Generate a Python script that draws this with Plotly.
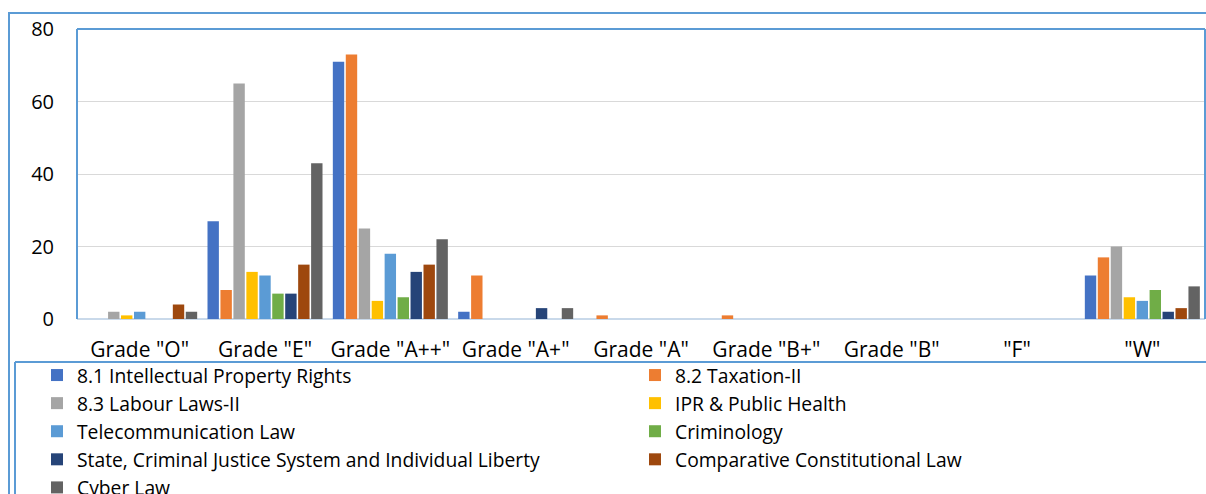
import plotly.graph_objects as go

categories = ['Grade "O"', 'Grade "E"', 'Grade "A++"', 'Grade "A+"', 'Grade "A"',
              'Grade "B+"', 'Grade "B"', '"F"', '"W"']

series_names = [
    "8.1 Intellectual Property Rights",
    "8.2 Taxation-II",
    "8.3 Labour Laws-II",
    "IPR & Public Health",
    "Telecommunication Law",
    "Criminology",
    "State, Criminal Justice System and Individual Liberty",
    "Comparative Constitutional Law",
    "Cyber Law",
]

ipr = [0, 27, 71, 2, 0, 0, 0, 0, 12]
taxation = [0, 8, 73, 12, 1, 1, 0, 0, 17]
labour = [2, 65, 25, 0, 0, 0, 0, 0, 20]
ipr_health = [1, 13, 5, 0, 0, 0, 0, 0, 6]
telecom = [2, 12, 18, 0, 0, 0, 0, 0, 5]
criminology = [0, 7, 6, 0, 0, 0, 0, 0, 8]
state_cjs = [0, 7, 13, 3, 0, 0, 0, 0, 2]
comparative = [4, 15, 15, 0, 0, 0, 0, 0, 3]
cyber = [2, 43, 22, 3, 0, 0, 0, 0, 9]

all_values = [ipr, taxation, labour, ipr_health, telecom, criminology, state_cjs, comparative, cyber]
colors = ["#4472C4", "#ED7D31", "#A5A5A5", "#FFC000", "#5B9BD5",
          "#70AD47", "#264478", "#9E480E", "#636363"]

FONT = "Open Sans"
W, H = 1206, 494
L, R, T, B = 77, 1, 29, 175
pw, ph = W - L - R, H - T - B

def px(x):
    return (x - L) / pw

def py(y):
    return (H - B - y) / ph

fig = go.Figure()
for i, (name, vals, col) in enumerate(zip(series_names, all_values, colors)):
    fig.add_trace(go.Bar(x=categories, y=vals, name=name, marker_color=col,
                         marker_line_width=0,
                         legend="legend" if i % 2 == 0 else "legend2"))

frame = "#5B9BD5"
shapes = [
    dict(type="line", xref="paper", yref="paper", x0=px(8), x1=px(1206), y0=py(13), y1=py(13),
         line=dict(color=frame, width=2)),
    dict(type="line", xref="paper", yref="paper", x0=px(9), x1=px(9), y0=py(13), y1=py(494),
         line=dict(color=frame, width=2)),
    dict(type="line", xref="paper", yref="paper", x0=0, x1=1, y0=1, y1=1,
         line=dict(color=frame, width=2)),
    dict(type="line", xref="paper", yref="paper", x0=0, x1=0, y0=0, y1=1,
         line=dict(color=frame, width=2)),
    dict(type="line", xref="paper", yref="paper", x0=1, x1=1, y0=0, y1=1,
         line=dict(color=frame, width=2)),
    dict(type="line", xref="paper", yref="paper", x0=px(15), x1=px(1206), y0=py(362), y1=py(362),
         line=dict(color=frame, width=2)),
    dict(type="line", xref="paper", yref="paper", x0=px(15), x1=px(15), y0=py(362), y1=py(494),
         line=dict(color=frame, width=2)),
]

legend_top = 356
legend_common = dict(orientation="v", xref="paper", yref="container",
                     y=(H - legend_top) / H, yanchor="top", xanchor="left",
                     font=dict(family=FONT, size=19.3, color="#000000"),
                     bgcolor="rgba(0,0,0,0)", traceorder="normal")

fig.update_layout(
    width=W, height=H,
    margin=dict(l=L, r=R, t=T, b=B, autoexpand=False),
    paper_bgcolor="white", plot_bgcolor="white",
    font=dict(family=FONT, size=20, color="#000000"),
    barmode="group", bargap=0.07, bargroupgap=0.12,
    showlegend=True,
    legend=dict(x=px(37), **legend_common),
    legend2=dict(x=px(635), **legend_common),
    shapes=shapes,
)
fig.update_yaxes(range=[0, 80], dtick=20, showgrid=True, gridcolor="#D9D9D9", gridwidth=1,
                 zeroline=True, zerolinecolor="#C9D9EA", zerolinewidth=2,
                 tickfont=dict(family=FONT, size=20), ticklabelstandoff=22, showline=False,
                 automargin=False)
fig.update_xaxes(tickfont=dict(family=FONT, size=21), showline=False, ticks="",
                 ticklabelstandoff=16, automargin=False)

fig.write_html("out.html", config={"displayModeBar": False},
               post_script="document.body.style.margin='0px';")
